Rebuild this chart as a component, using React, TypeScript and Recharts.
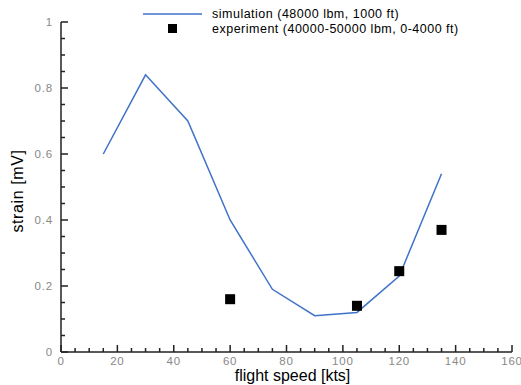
import React from "react";
import { ComposedChart, Line, Scatter, XAxis, YAxis } from "recharts";

// simulation (48000 lbm, 1000 ft)
const simSpeed = [15, 30, 45, 60, 75, 90, 105, 120, 135];
const simStrain = [0.6, 0.84, 0.7, 0.4, 0.19, 0.11, 0.12, 0.23, 0.54];

// experiment (40000-50000 lbm, 0-4000 ft)
const expSpeed = [60, 105, 120, 135];
const expStrain = [0.16, 0.14, 0.245, 0.37];

const xTicks = [
  0, 5, 10, 15, 20, 25, 30, 35, 40, 45, 50, 55, 60, 65, 70, 75, 80, 85, 90, 95,
  100, 105, 110, 115, 120, 125, 130, 135, 140, 145, 150, 155, 160,
];
const yTicks = [
  0, 0.05, 0.1, 0.15, 0.2, 0.25, 0.3, 0.35, 0.4, 0.45, 0.5, 0.55, 0.6, 0.65,
  0.7, 0.75, 0.8, 0.85, 0.9, 0.95, 1,
];

const simData = simSpeed.map((s, i) => ({ speed: s, strain: simStrain[i] }));
const expData = expSpeed.map((s, i) => ({ speed: s, strain: expStrain[i] }));

const FONT = '"Liberation Sans", Arial, Helvetica, sans-serif';
const AXIS = "#222";
const TICK_TEXT = "#888";
const BLUE = "#3f72c8";

function XTick({ x, y, payload }: any) {
  const v = payload.value;
  const major = v % 20 === 0;
  return (
    <g>
      <line x1={x} x2={x} y1={y} y2={y - (major ? 7 : 4)} stroke={AXIS} strokeWidth={1.5} />
      {major && (
        <text
          x={x}
          y={y + 13}
          textAnchor="middle"
          fill={TICK_TEXT}
          fontSize={11.5}
          letterSpacing={0.8}
          fontFamily={FONT}
        >
          {v}
        </text>
      )}
    </g>
  );
}

function YTick({ x, y, payload }: any) {
  const v = payload.value;
  const major = Math.round(v * 100) % 20 === 0;
  return (
    <g>
      <line x1={x} x2={x + (major ? 7 : 4)} y1={y} y2={y} stroke={AXIS} strokeWidth={1.5} />
      {major && (
        <text
          x={x - 8}
          y={y + 4}
          textAnchor="end"
          fill={TICK_TEXT}
          fontSize={11.5}
          letterSpacing={0.8}
          fontFamily={FONT}
        >
          {String(Math.round(v * 10) / 10)}
        </text>
      )}
    </g>
  );
}

function XLabel({ viewBox }: any) {
  return (
    <text
      x={viewBox.x + viewBox.width / 2 + 6}
      y={viewBox.y + 29}
      textAnchor="middle"
      fill="#000"
      fontSize={16}
      fontFamily={FONT}
    >
      flight speed [kts]
    </text>
  );
}

function YLabel({ viewBox }: any) {
  const cx = viewBox.x + 17;
  const cy = viewBox.y + viewBox.height / 2 + 4;
  return (
    <text
      x={cx}
      y={cy}
      transform={`rotate(-90, ${cx}, ${cy})`}
      textAnchor="middle"
      dominantBaseline="central"
      fill="#000"
      fontSize={16}
      letterSpacing={0.6}
      fontFamily={FONT}
    >
      strain [mV]
    </text>
  );
}

function SquareDot({ cx, cy }: any) {
  return <rect x={cx - 5} y={cy - 5} width={10} height={10} fill="#000" />;
}

function LegendBox() {
  return (
    <svg
      width={340}
      height={40}
      style={{ position: "absolute", left: 130, top: 0 }}
    >
      <line x1={13} x2={72} y1={14} y2={14} stroke={BLUE} strokeWidth={1.5} />
      <text x={82} y={18} fontSize={12.5} letterSpacing={0.5} fontFamily={FONT} fill="#000">
        simulation (48000 lbm, 1000 ft)
      </text>
      <rect x={38} y={24} width={9} height={9} fill="#000" />
      <text x={82} y={33} fontSize={12.5} letterSpacing={0.5} fontFamily={FONT} fill="#000">
        experiment (40000-50000 lbm, 0-4000 ft)
      </text>
    </svg>
  );
}

export default function App() {
  return (
    <div style={{ position: "absolute", left: 0, top: 0, width: 521, height: 385, background: "#fff" }}>
      <ComposedChart
        width={521}
        height={385}
        margin={{ top: 22, right: 9, left: 0, bottom: 0 }}
      >
        <XAxis
          type="number"
          dataKey="speed"
          domain={[0, 160]}
          ticks={xTicks}
          interval={0}
          tickSize={0}
          tickMargin={0}
          tickLine={false}
          tick={<XTick />}
          axisLine={{ stroke: AXIS, strokeWidth: 1.5 }}
          height={33}
          label={<XLabel />}
        />
        <YAxis
          type="number"
          dataKey="strain"
          domain={[0, 1]}
          ticks={yTicks}
          interval={0}
          tickSize={0}
          tickMargin={0}
          tickLine={false}
          tick={<YTick />}
          axisLine={{ stroke: AXIS, strokeWidth: 1.5 }}
          width={61}
          label={<YLabel />}
        />
        <Line
          data={simData}
          dataKey="strain"
          type="linear"
          stroke={BLUE}
          strokeWidth={1.5}
          dot={false}
          activeDot={false}
          isAnimationActive={false}
        />
        <Scatter
          data={expData}
          dataKey="strain"
          shape={<SquareDot />}
          isAnimationActive={false}
        />
      </ComposedChart>
      <LegendBox />
    </div>
  );
}
